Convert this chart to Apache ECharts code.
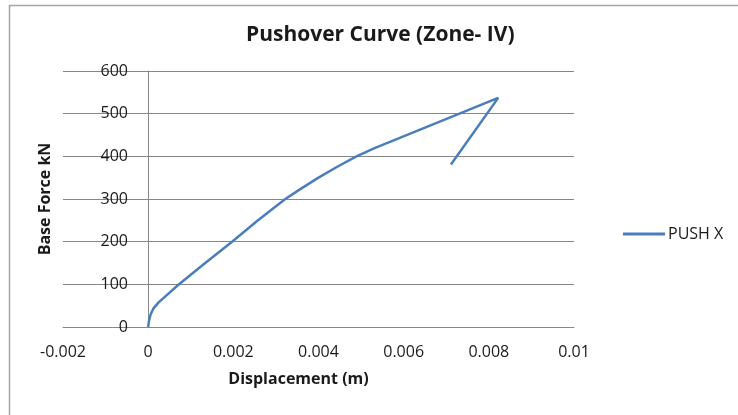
<!DOCTYPE html>
<html>
<head>
<meta charset="utf-8">
<script src="https://cdn.jsdelivr.net/npm/echarts@6/dist/echarts.min.js"></script>
<style>html,body{margin:0;padding:0;background:#fff;}#c{width:738px;height:415px;}</style>
</head>
<body>
<div id="c"></div>
<script>
var seriesName = 'PUSH X';
var dispX  = [0, 0.00002, 0.00006, 0.00012, 0.00024, 0.00045, 0.00071, 0.00134, 0.00197, 0.00258, 0.00322, 0.0036, 0.004, 0.00443, 0.00489, 0.00533, 0.00588, 0.00731, 0.00822, 0.00711];
var forceY = [0, 15, 30, 43, 57, 76, 99, 150, 200, 250, 300, 325, 350, 375, 400, 420, 442, 500, 537, 381];
var xTicks = [-0.002, 0, 0.002, 0.004, 0.006, 0.008, 0.01];
var yTicks = [0, 100, 200, 300, 400, 500, 600];

var pts = dispX.map(function (x, i) { return [x, forceY[i]]; });
var font = 'Open Sans';
var txt = '#1a1a1a';
var chart = echarts.init(document.getElementById('c'));
chart.setOption({
  animation: false,
  graphic: [{
    type: 'rect', shape: {x: 9.5, y: 5.5, width: 800, height: 500},
    style: {fill: 'none', stroke: '#a6a6a6', lineWidth: 1.5}
  }],
  title: {
    text: 'Pushover Curve (Zone- IV)', left: 241, top: 20,
    textStyle: {fontFamily: font, fontWeight: 'bold', fontSize: 21, color: txt}
  },
  legend: {
    left: 618, top: 221, itemWidth: 42, itemHeight: 3, itemGap: 4, icon: 'rect',
    data: [seriesName],
    textStyle: {fontFamily: font, fontSize: 16, color: txt, padding: [0, 0, 0, -2]}
  },
  grid: {left: 63, right: 164, top: 71, bottom: 88, containLabel: false, outerBoundsMode: 'none'},
  xAxis: {
    type: 'value', min: xTicks[0], max: xTicks[xTicks.length - 1], interval: 0.002,
    name: 'Displacement (m)', nameLocation: 'middle', nameGap: 44,
    nameTextStyle: {fontFamily: font, fontWeight: 'bold', fontSize: 16, color: txt, padding: [0, 40, 0, 0]},
    axisLine: {show: true, onZero: false, lineStyle: {color: '#868686', width: 1}},
    axisTick: {show: false},
    splitLine: {show: false},
    axisLabel: {
      fontFamily: font, fontSize: 16, color: txt, margin: 17,
      formatter: function (v) { return String(Number(v.toFixed(4))); }
    }
  },
  yAxis: {
    type: 'value', min: yTicks[0], max: yTicks[yTicks.length - 1], interval: 100,
    name: 'Base Force kN', nameLocation: 'middle', nameGap: 10,
    nameTextStyle: {fontFamily: font, fontWeight: 'bold', fontSize: 16, color: txt},
    axisLine: {show: true, onZero: true, lineStyle: {color: '#868686', width: 1}},
    axisTick: {show: false},
    splitLine: {show: true, lineStyle: {color: '#868686', width: 1}},
    axisLabel: {fontFamily: font, fontSize: 16, color: txt, margin: -65}
  },
  series: [{
    name: seriesName, type: 'line', data: pts, symbol: 'none', smooth: false,
    lineStyle: {color: '#4a7ebb', width: 2.5}, itemStyle: {color: '#4a7ebb'}
  }]
});
</script>
</body>
</html>
